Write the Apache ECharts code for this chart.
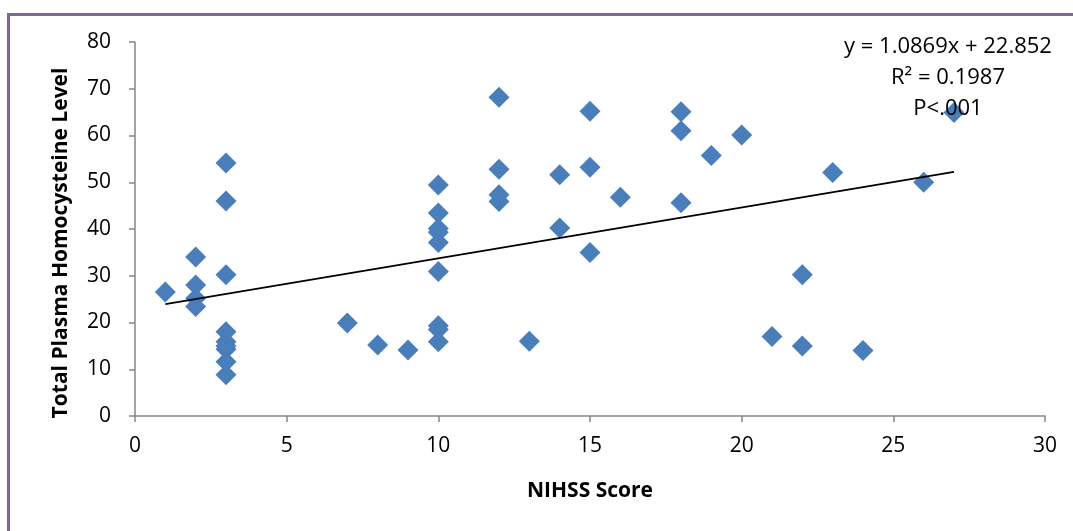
<!DOCTYPE html>
<html>
<head>
<meta charset="utf-8">
<script src="https://cdn.jsdelivr.net/npm/echarts@6/dist/echarts.min.js"></script>
<style>
html,body{margin:0;padding:0;background:#fff;}
#chart{width:1073px;height:531px;}
</style>
</head>
<body>
<div id="chart"></div>
<script>
// NIHSS score (x) values
const nihss = [1, 2, 2, 2, 2, 3, 3, 3, 3, 3, 3, 3, 3, 3,
  7, 8, 9, 10, 10, 10, 10, 10, 10, 10, 10, 10,
  12, 12, 12, 12, 13, 14, 14, 15, 15, 15, 16,
  18, 18, 18, 19, 20, 21, 22, 22, 23, 24, 26, 27];
// Total plasma homocysteine (y) values
const homocysteine = [26.5, 34.0, 28.0, 25.2, 23.4, 54.1, 46.0, 30.2, 18.0, 15.9, 15.0, 14.3, 11.6, 8.8,
  19.9, 15.2, 14.1, 49.4, 43.4, 40.1, 39.3, 37.1, 30.9, 19.3, 18.5, 15.9,
  68.2, 52.8, 47.3, 45.9, 16.0, 51.6, 40.2, 65.2, 53.2, 35.0, 46.8,
  65.1, 61.0, 45.6, 55.7, 60.1, 17.0, 30.2, 15.0, 52.1, 14.0, 50.0, 64.9];
const xTicks = [0, 5, 10, 15, 20, 25, 30];
const yTicks = [0, 10, 20, 30, 40, 50, 60, 70, 80];
const slope = 1.0869, intercept = 22.852;
const trendRange = [1, 27];
const annotation = ['y = 1.0869x + 22.852', 'R² = 0.1987', 'P<.001'];
const xTitle = 'NIHSS Score';
const yTitle = 'Total Plasma Homocysteine Level';

const points = nihss.map((x, i) => [x, homocysteine[i]]);
const trend = trendRange.map(x => [x, slope * x + intercept]);

const chart = echarts.init(document.getElementById('chart'), null, {renderer: 'canvas'});
const font = '"Open Sans", "Noto Sans", sans-serif';
chart.setOption({
  animation: false,
  backgroundColor: '#fff',
  grid: {left: 135, right: 28, top: 42, bottom: 115, containLabel: false},
  xAxis: {
    type: 'value', min: xTicks[0], max: xTicks[xTicks.length - 1], interval: 5,
    name: xTitle, nameLocation: 'middle', nameGap: 65,
    nameTextStyle: {fontFamily: font, fontSize: 21, fontWeight: 'bold', color: '#000'},
    axisLine: {lineStyle: {color: '#868686', width: 1.5}},
    axisTick: {show: true, length: 6, lineStyle: {color: '#868686', width: 1.5}},
    axisLabel: {fontFamily: font, fontSize: 21, color: '#000', margin: 20},
    splitLine: {show: false}
  },
  yAxis: {
    type: 'value', min: yTicks[0], max: yTicks[yTicks.length - 1], interval: 10,
    axisLine: {show: true, lineStyle: {color: '#868686', width: 1.5}},
    axisTick: {show: true, length: 6, lineStyle: {color: '#868686', width: 1.5}},
    axisLabel: {fontFamily: font, fontSize: 21, color: '#000', margin: 24},
    splitLine: {show: false}
  },
  graphic: [
    {type: 'polyline', silent: true, z: 100,
     shape: {points: [[8.5, 531], [8.5, 14.5], [1073, 14.5]]},
     style: {stroke: '#8064a2', lineWidth: 3, fill: null}},
    {type: 'text', x: 61, y: 243, rotation: Math.PI / 2, z: 100,
     style: {text: yTitle, font: 'bold 21px ' + font, fill: '#000', textAlign: 'center', textVerticalAlign: 'middle'}},
    {type: 'text', x: 948, y: 31, z: 100,
     style: {text: annotation.join('\n'), font: '22px ' + font, fill: '#000', textAlign: 'center', lineHeight: 31}}
  ],
  series: [
    {type: 'scatter', data: points, symbol: 'diamond', symbolSize: 21,
     itemStyle: {color: '#4a7ebb', opacity: 1}, z: 3},
    {type: 'line', data: trend, symbol: 'none', lineStyle: {color: '#000', width: 1.8}, z: 4}
  ]
});
</script>
</body>
</html>
